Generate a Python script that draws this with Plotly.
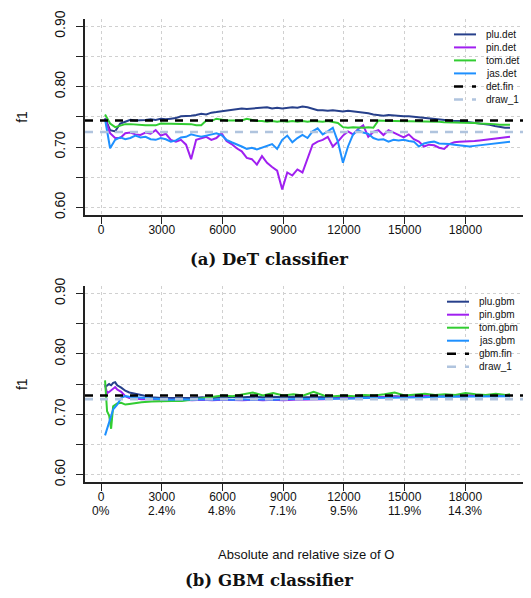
import plotly.graph_objects as go

PAGE_W, PAGE_H = 531, 598
OFF = 8  # default page body margin
W, H = PAGE_W - OFF, PAGE_H - 2 * OFF

# ---------------- data ----------------
x_det = list(range(200, 20201, 250))

plu_det = [0.748, 0.728, 0.726, 0.739, 0.742, 0.745, 0.744, 0.744, 0.745, 0.746,
           0.745, 0.747, 0.746, 0.747, 0.748, 0.751, 0.751, 0.752, 0.753, 0.755,
           0.754, 0.757, 0.758, 0.759, 0.760, 0.761, 0.763, 0.764, 0.763, 0.764,
           0.765, 0.765, 0.766, 0.764, 0.765, 0.764, 0.765, 0.766, 0.765, 0.767,
           0.766, 0.764, 0.761, 0.761, 0.760, 0.761, 0.760, 0.759, 0.760, 0.759,
           0.758, 0.758, 0.756, 0.754, 0.753, 0.752, 0.753, 0.752, 0.752, 0.751,
           0.751, 0.750, 0.750, 0.749, 0.747, 0.747, 0.746, 0.745, 0.744, 0.743,
           0.743, 0.742, 0.742, 0.740, 0.739, 0.738, 0.737, 0.735, 0.733, 0.732,
           0.732]
pin_det = [0.747, 0.723, 0.715, 0.715, 0.723, 0.724, 0.721, 0.720, 0.724, 0.722,
           0.728, 0.719, 0.722, 0.712, 0.709, 0.712, 0.704, 0.680, 0.712, 0.715,
           0.717, 0.712, 0.715, 0.723, 0.710, 0.705, 0.698, 0.693, 0.682, 0.680,
           0.671, 0.685, 0.674, 0.667, 0.661, 0.630, 0.658, 0.653, 0.663, 0.658,
           0.682, 0.704, 0.709, 0.712, 0.717, 0.701, 0.709, 0.719, 0.726, 0.721,
           0.730, 0.736, 0.717, 0.725, 0.728, 0.720, 0.728, 0.724, 0.719, 0.716,
           0.721, 0.713, 0.709, 0.701, 0.704, 0.703, 0.699, 0.697, 0.705, 0.708,
           0.709, 0.709, 0.710, 0.710, 0.711, 0.712, 0.713, 0.714, 0.715, 0.716,
           0.717]
tom_det = [0.754, 0.739, 0.733, 0.736, 0.738, 0.738, 0.737, 0.737, 0.736, 0.736,
           0.736, 0.739, 0.739, 0.738, 0.739, 0.738, 0.739, 0.738, 0.736, 0.736,
           0.744, 0.743, 0.747, 0.745, 0.744, 0.744, 0.744, 0.744, 0.747, 0.745,
           0.743, 0.743, 0.742, 0.743, 0.742, 0.743, 0.742, 0.743, 0.742, 0.743,
           0.742, 0.743, 0.742, 0.742, 0.743, 0.742, 0.740, 0.733, 0.732, 0.733,
           0.732, 0.732, 0.733, 0.732, 0.744, 0.743, 0.743, 0.743, 0.743, 0.743,
           0.743, 0.743, 0.742, 0.743, 0.742, 0.742, 0.742, 0.741, 0.741, 0.741,
           0.741, 0.740, 0.740, 0.740, 0.739, 0.739, 0.739, 0.738, 0.737, 0.737,
           0.737]
jas_det = [0.746, 0.698, 0.712, 0.716, 0.713, 0.715, 0.719, 0.716, 0.717, 0.713,
           0.712, 0.715, 0.713, 0.709, 0.711, 0.716, 0.717, 0.721, 0.719, 0.717,
           0.719, 0.721, 0.723, 0.720, 0.712, 0.708, 0.705, 0.701, 0.697, 0.699,
           0.696, 0.699, 0.702, 0.705, 0.697, 0.712, 0.719, 0.708, 0.715, 0.720,
           0.715, 0.726, 0.731, 0.721, 0.726, 0.732, 0.709, 0.674, 0.701, 0.721,
           0.728, 0.724, 0.722, 0.715, 0.712, 0.713, 0.709, 0.712, 0.711, 0.712,
           0.710, 0.709, 0.701, 0.706, 0.708, 0.709, 0.706, 0.706, 0.705, 0.704,
           0.703, 0.702, 0.701, 0.702, 0.703, 0.704, 0.705, 0.706, 0.707, 0.709,
           0.709]
det_fin = 0.744
draw_1 = 0.725

x_gbm = [200, 300, 400, 500, 600, 700, 800, 1000, 1200, 1400, 1700, 2000, 2500, 3000,
         3500, 4000, 4500, 5000, 5500, 6000, 6500, 7000, 7500, 8000, 8500, 9000, 9500,
         10000, 10500, 11000, 11500, 12000, 12500, 13000, 13500, 14000, 14500, 15000,
         15500, 16000, 16500, 17000, 17500, 18000, 18500, 19000, 19500, 20000, 20200]
plu_gbm = [0.745, 0.748, 0.750, 0.748, 0.752, 0.753, 0.748, 0.744, 0.739, 0.736, 0.734,
           0.731, 0.728, 0.727, 0.727, 0.726, 0.727, 0.728, 0.727, 0.728, 0.729, 0.728,
           0.729, 0.728, 0.729, 0.728, 0.729, 0.728, 0.728, 0.729, 0.728, 0.729, 0.728,
           0.729, 0.729, 0.729, 0.730, 0.729, 0.730, 0.730, 0.730, 0.729, 0.730, 0.730,
           0.731, 0.730, 0.730, 0.731, 0.730]
pin_gbm = [0.749, 0.735, 0.737, 0.740, 0.742, 0.745, 0.741, 0.737, 0.730, 0.727, 0.726,
           0.725, 0.725, 0.724, 0.724, 0.724, 0.723, 0.724, 0.723, 0.724, 0.723, 0.723,
           0.724, 0.723, 0.724, 0.723, 0.724, 0.724, 0.725, 0.725, 0.726, 0.726, 0.727,
           0.727, 0.728, 0.728, 0.729, 0.729, 0.730, 0.730, 0.730, 0.731, 0.731, 0.731,
           0.732, 0.731, 0.732, 0.732, 0.731]
tom_gbm = [0.756, 0.705, 0.698, 0.676, 0.713, 0.716, 0.718, 0.719, 0.716, 0.717, 0.719,
           0.720, 0.721, 0.722, 0.722, 0.722, 0.724, 0.727, 0.729, 0.731, 0.730, 0.733,
           0.736, 0.731, 0.735, 0.731, 0.733, 0.731, 0.737, 0.731, 0.730, 0.731, 0.730,
           0.732, 0.731, 0.733, 0.736, 0.731, 0.732, 0.734, 0.732, 0.733, 0.732, 0.735,
           0.733, 0.732, 0.734, 0.732, 0.733]
jas_gbm = [0.665, 0.675, 0.686, 0.697, 0.708, 0.712, 0.716, 0.727, 0.730, 0.729, 0.728,
           0.727, 0.726, 0.725, 0.724, 0.725, 0.724, 0.725, 0.724, 0.725, 0.724, 0.725,
           0.724, 0.725, 0.724, 0.725, 0.725, 0.725, 0.726, 0.725, 0.726, 0.726, 0.726,
           0.727, 0.727, 0.727, 0.728, 0.728, 0.728, 0.728, 0.729, 0.729, 0.729, 0.729,
           0.729, 0.730, 0.730, 0.730, 0.730]
gbm_fin = 0.731

x_ticks = [0, 3000, 6000, 9000, 12000, 15000, 18000]
x_pct = ["0%", "2.4%", "4.8%", "7.1%", "9.5%", "11.9%", "14.3%"]
y_ticks = [0.60, 0.65, 0.70, 0.75, 0.80, 0.85, 0.90]
y_text = ["0.60", "", "0.70", "", "0.80", "", "0.90"]

names_det = ["plu.det", "pin.det", "tom.det", "jas.det", "det.fin", "draw_1"]
names_gbm = ["plu.gbm", "pin.gbm", "tom.gbm", "jas.gbm", "gbm.fin", "draw_1"]
colors = ["#27408B", "#A020F0", "#32CD32", "#1E90FF", "#000000", "#B0C4DE"]

X_RANGE = [-790, 20990]
Y_RANGE = [0.588, 0.912]

# ---------------- layout helpers (page pixel -> paper) ----------------
def px(x):
    return (x - OFF) / W

def py(y):
    return 1 - (y - OFF) / H

FONT = "Liberation Sans, Arial, sans-serif"
AX = "#222222"
TXT = "#111111"

fig = go.Figure()

panels = [
    ("x", "y", x_det, [plu_det, pin_det, tom_det, jas_det], det_fin, names_det, (10, 210.3)),
    ("x2", "y2", x_gbm, [plu_gbm, pin_gbm, tom_gbm, jas_gbm], gbm_fin, names_gbm, (283.4, 483.5)),
]

shapes = []
annotations = []
for xa, ya, xs, series, fin, names, (top, bot) in panels:
    for s, c, n in zip(series, colors[:4], names[:4]):
        fig.add_trace(go.Scatter(x=xs, y=s, mode="lines", name=n, xaxis=xa, yaxis=ya,
                                 line=dict(color=c, width=2), showlegend=False))
    for val, c, n in [(fin, colors[4], names[4]), (draw_1, colors[5], names[5])]:
        fig.add_trace(go.Scatter(x=X_RANGE, y=[val, val], mode="lines", name=n,
                                 xaxis=xa, yaxis=ya, showlegend=False,
                                 line=dict(color=c, width=2.6, dash="8px,7px")))
    # manual legend (R style, no box)
    is_top = xa == "x"
    lx0, lx1, tx = (454, 476, 484) if is_top else (447, 469, 477)
    for i, (n, c) in enumerate(zip(names, colors)):
        yy = top + 15.8 + 13.3 * i
        dash = "solid" if i < 4 else "dash"
        shapes.append(dict(type="line", xref="paper", yref="paper",
                           x0=px(lx0), x1=px(lx1), y0=py(yy), y1=py(yy),
                           line=dict(color=c, width=2.5 if i >= 4 else 2,
                                     dash=dash)))
        annotations.append(dict(text=n, xref="paper", yref="paper", x=px(tx), y=py(yy),
                                xanchor="left", yanchor="middle", showarrow=False,
                                font=dict(family=FONT, size=10, color=TXT)))
    # y title
    annotations.append(dict(text="f1", xref="paper", yref="paper", x=px(22),
                            y=py((top + bot) / 2), textangle=-90, showarrow=False,
                            xanchor="center", yanchor="middle",
                            font=dict(family=FONT, size=14, color=TXT)))

# relative-size row under the lower x axis
for v, p in zip(x_ticks, x_pct):
    annotations.append(dict(text=p, xref="x2", yref="paper", x=v, y=py(513),
                            xanchor="center", yanchor="middle", showarrow=False,
                            font=dict(family=FONT, size=12, color=TXT)))

annotations.append(dict(text="Absolute and relative size of O", xref="paper", yref="paper",
                        x=px(305.5), y=py(558), showarrow=False, xanchor="center",
                        yanchor="middle", font=dict(family=FONT, size=13, color=TXT)))
annotations.append(dict(text="<b>(a) DeT classifier</b>", xref="paper", yref="paper",
                        x=px(269), y=py(256), showarrow=False, xanchor="center",
                        yanchor="middle", font=dict(family="DejaVu Serif", size=16.5, color=TXT)))
annotations.append(dict(text="<b>(b) GBM classifier</b>", xref="paper", yref="paper",
                        x=px(269), y=py(584), showarrow=False, xanchor="center",
                        yanchor="middle", font=dict(family="DejaVu Serif", size=16.5, color=TXT)))

common_x = dict(range=X_RANGE, tickvals=x_ticks, ticktext=[str(v) for v in x_ticks],
                showline=True, linecolor=AX, linewidth=1.5,
                ticks="outside", ticklen=7, tickwidth=1.2, tickcolor=AX,
                showgrid=True, gridcolor="#D0D0D0", griddash="dot", gridwidth=1,
                zeroline=False, ticklabelstandoff=-4,
                tickfont=dict(family=FONT, size=12, color=TXT))
common_y = dict(range=Y_RANGE, tickvals=y_ticks, ticktext=y_text, showline=True,
                linecolor=AX, linewidth=1.5, ticks="outside", ticklen=7, tickwidth=1.2,
                tickcolor=AX, showgrid=True, gridcolor="#D0D0D0", griddash="dot",
                gridwidth=1, zeroline=False, tickangle=-90, ticklabelstandoff=6,
                tickfont=dict(family=FONT, size=14, color=TXT))

fig.update_layout(
    width=W, height=H, margin=dict(l=0, r=0, t=0, b=0),
    paper_bgcolor="white", plot_bgcolor="white", showlegend=False,
    xaxis=dict(domain=[px(85), px(526)], anchor="y", **common_x),
    yaxis=dict(domain=[py(210.3), py(10)], anchor="x", **common_y),
    xaxis2=dict(domain=[px(85), px(526)], anchor="y2", **common_x),
    yaxis2=dict(domain=[py(483.5), py(283.4)], anchor="x2", **common_y),
    shapes=shapes, annotations=annotations,
)

fig.write_html("out.html")
